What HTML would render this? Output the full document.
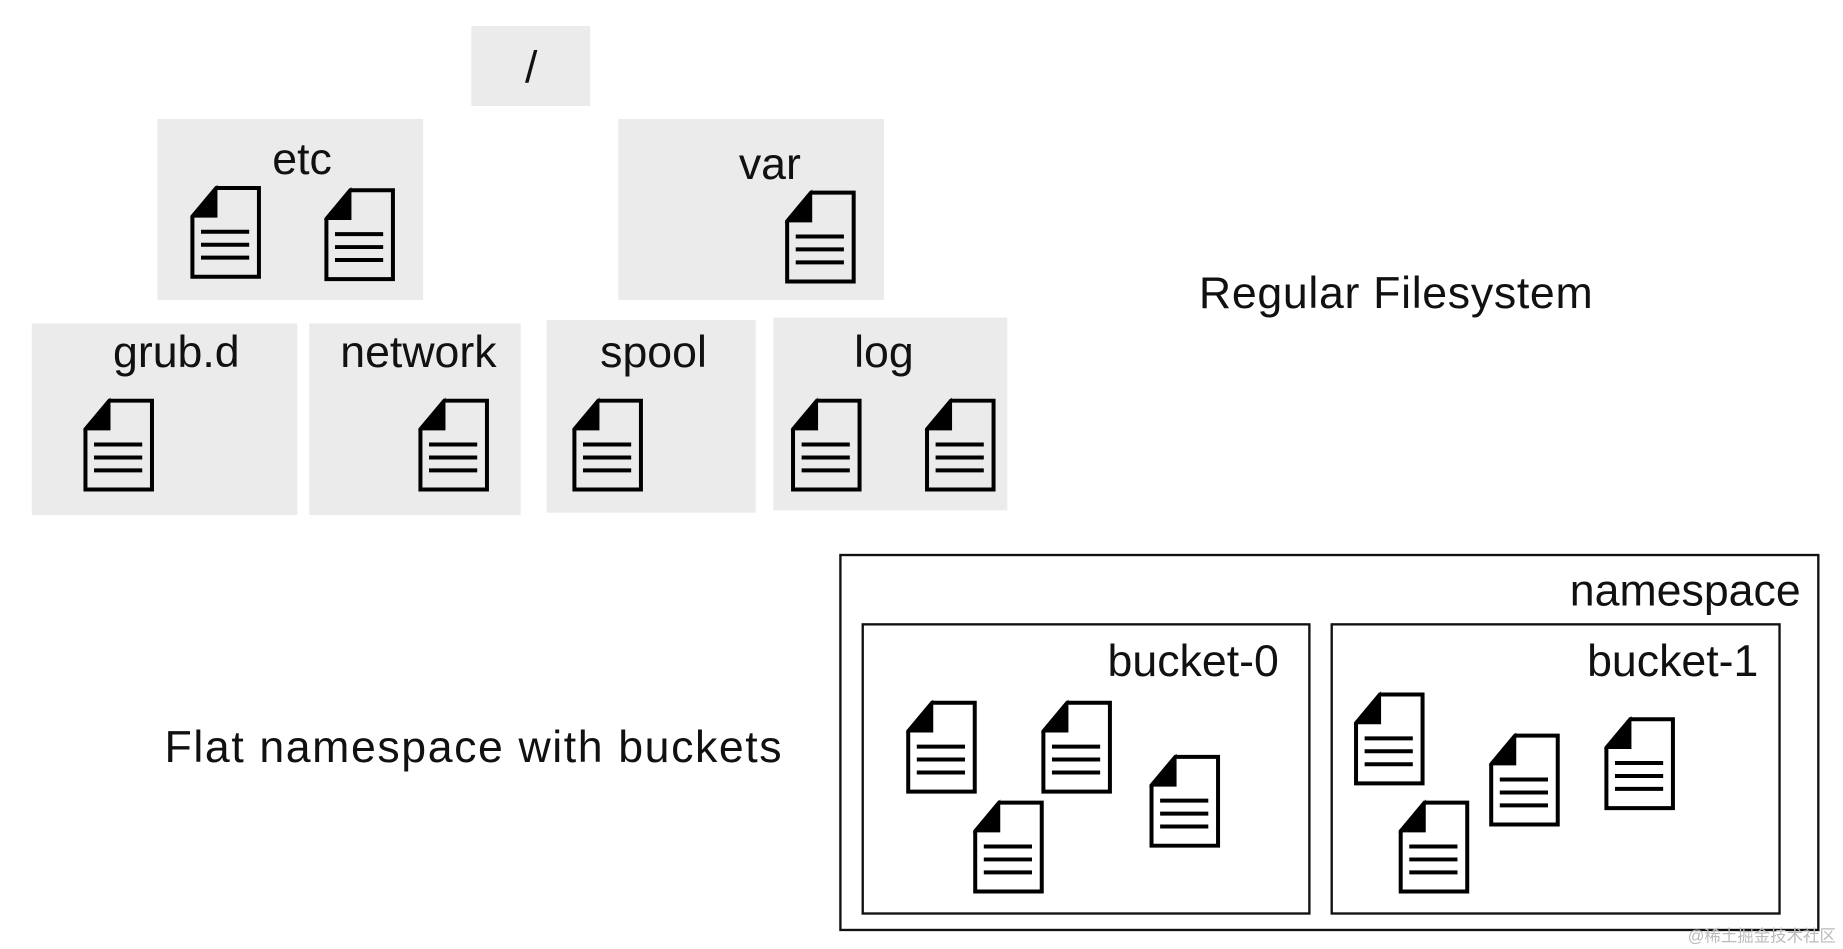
<!DOCTYPE html>
<html><head><meta charset="utf-8"><style>html,body{margin:0;padding:0;background:#fff;overflow:hidden}svg{display:block}text{font-family:"Liberation Sans",sans-serif;fill:#111}</style></head><body>
<svg width="1843" height="949" viewBox="0 0 1568 807" xmlns="http://www.w3.org/2000/svg">
<defs>
<g id="d">
<path d="M22 1.7H58.3V77.3H1.7V26Z" fill="none" stroke="#000" stroke-width="3.4"/>
<path d="M1.7 26L22 1.7V26Z" fill="#000" stroke="#000" stroke-width="2"/>
<path d="M9 39H50M9 50H50M9 61H50" stroke="#000" stroke-width="3.4"/>
</g>
</defs>
<g fill="#ebebeb">
<rect x="401" y="22" width="101" height="68"/>
<rect x="134" y="101" width="226" height="154"/>
<rect x="526" y="101" width="226" height="154"/>
<rect x="27" y="275" width="226" height="163"/>
<rect x="263" y="275" width="180" height="163"/>
<rect x="465" y="272" width="178" height="164"/>
<rect x="658" y="270" width="199" height="164"/>
</g>
<g font-size="38" text-anchor="middle">
<text x="452" y="70">/</text>
<text x="257" y="148">etc</text>
<text x="655" y="152">var</text>
<text x="150" y="312">grub.d</text>
<text x="356" y="312">network</text>
<text x="556" y="312">spool</text>
<text x="752" y="312">log</text>
</g>
<use href="#d" x="162" y="158"/><use href="#d" x="276" y="160"/><use href="#d" x="668" y="162"/>
<use href="#d" x="71" y="339"/><use href="#d" x="356" y="339"/><use href="#d" x="487" y="339"/>
<use href="#d" x="673" y="339"/><use href="#d" x="787" y="339"/>
<text x="1020" y="262" font-size="38" textLength="335">Regular Filesystem</text>
<text x="140" y="648" font-size="38" textLength="525">Flat namespace with buckets</text>
<rect x="715" y="472" width="832" height="319" fill="none" stroke="#111" stroke-width="2"/>
<rect x="734" y="531" width="380" height="246" fill="none" stroke="#111" stroke-width="2"/>
<rect x="1133" y="531" width="381" height="246" fill="none" stroke="#111" stroke-width="2"/>
<g font-size="38" text-anchor="end">
<text x="1532" y="515">namespace</text>
<text x="1088" y="575">bucket-0</text>
<text x="1496" y="575">bucket-1</text>
</g>
<use href="#d" x="771" y="596"/><use href="#d" x="886" y="596"/><use href="#d" x="978" y="642"/><use href="#d" x="828" y="681"/>
<use href="#d" x="1152" y="589"/><use href="#d" x="1267" y="624"/><use href="#d" x="1365" y="610"/><use href="#d" x="1190" y="681"/>
<text x="1562" y="801" font-size="14" text-anchor="end" style="fill:#bbb;font-family:'Liberation Sans','Noto Sans CJK SC',sans-serif">@稀土掘金技术社区</text>
</svg>
</body></html>
